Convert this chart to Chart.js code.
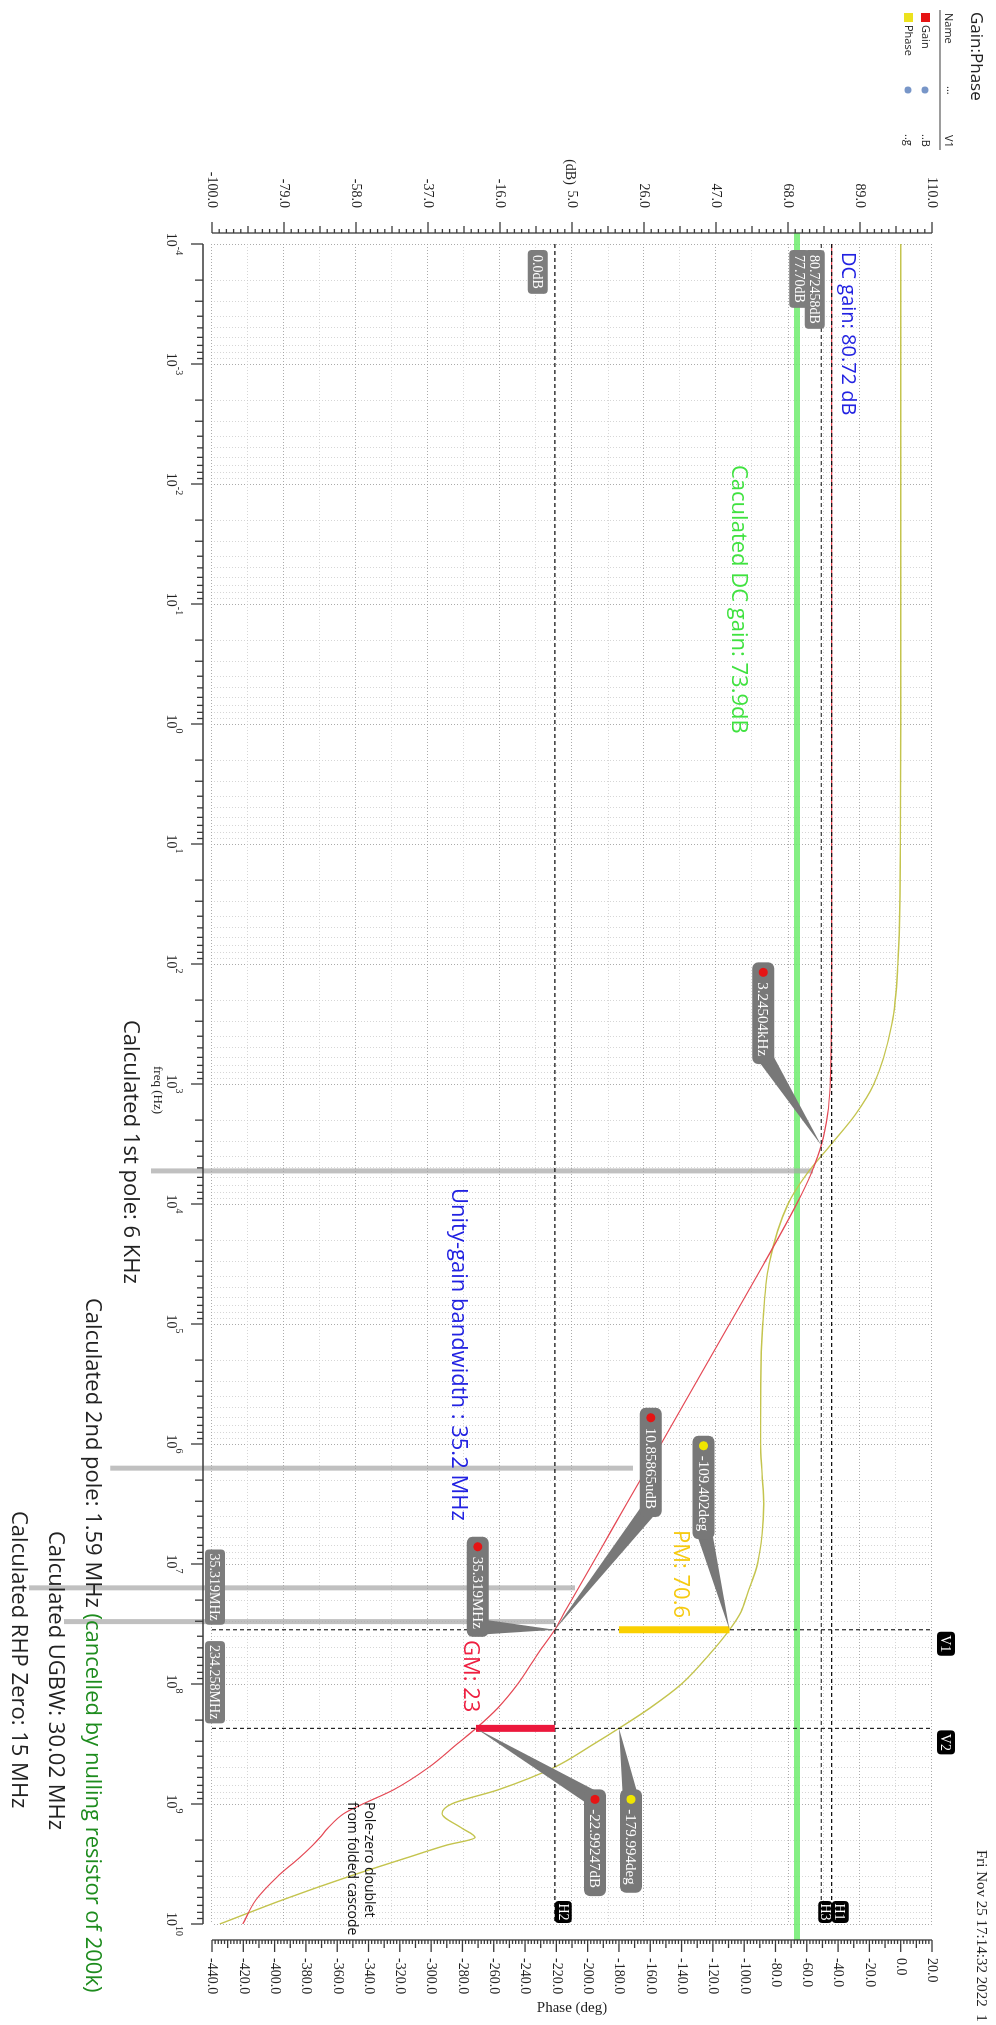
<!DOCTYPE html>
<html>
<head>
<meta charset="utf-8">
<script src="https://cdn.jsdelivr.net/npm/chart.js@4.4.1/dist/chart.umd.min.js"></script>
<style>
html, body { margin: 0; padding: 0; background: #fff; overflow: hidden; }
#wrap { position: absolute; left: 0; top: 0; width: 2025px; height: 996px; transform-origin: 0 0; transform: translate(996px, 0) rotate(90deg); }
</style>
</head>
<body>
<div id="wrap"><canvas id="c" width="2025" height="996"></canvas></div>
<script>
// the plot is drawn landscape and turned a quarter turn, like the original printout

const freqHz = [1e-4, 1e-2, 1, 10, 100, 316, 1000, 1780, 3160, 5620, 1e4, 3.16e4, 1e5, 3.16e5, 1e6, 1.78e6,
    3.16e6, 5.62e6, 1e7, 1.78e7, 2.5e7, 3.5319e7, 5.62e7, 1e8, 1.58e8, 2.34258e8, 3.16e8, 5e8, 7.6e8,
    1e9, 1.2e9, 1.6e9, 1.9e9, 2.2e9, 2.82e9, 4e9, 6.3e9, 1e10];
const gainDb = [80.72, 80.72, 80.72, 80.72, 80.72, 80.68, 80.33, 79.58, 77.82, 74.7, 70.52, 60.92, 50.93, 40.93, 30.93, 25.9,
    20.9, 15.9, 10.9, 5.85, 2.9, 0.0, -5.0, -10.8, -16.6, -23.0, -28.5, -37.0, -47.0,
    -56.0, -61.5, -66.3, -68.5, -70.6, -74.6, -80.8, -87.2, -91.0];
const phaseDeg = [0, 0, 0, -0.2, -1.8, -5.6, -17.1, -28.7, -44.2, -60.0, -72.0, -84.1, -88.1, -89.4, -89.5, -88.5,
    -87.5, -88.5, -91.5, -98, -102, -109.4, -122, -140, -160, -180, -196, -222, -257,
    -287, -293, -280, -272, -290, -316, -352, -395, -435];

const decadeExp = [-4, -3, -2, -1, 0, 1, 2, 3, 4, 5, 6, 7, 8, 9, 10];
const gainTicks = [-100, -79, -58, -37, -16, 5, 26, 47, 68, 89, 110];
const phaseTicks = [-440, -420, -400, -380, -360, -340, -320, -300, -280, -260, -240, -220, -200, -180,
    -160, -140, -120, -100, -80, -60, -40, -20, 0, 20];

// cursors
const cursorV = [{ name: 'V1', f: 35.319e6, label: '35.319MHz' }, { name: 'V2', f: 234.258e6, label: '234.258MHz' }];
const cursorH = [{ name: 'H1', db: 80.72458, label: '80.72458dB' }, { name: 'H3', db: 77.70, label: '77.70dB' },
    { name: 'H2', db: 0.0, label: '0.0dB' }];

const calcDcGain = 70.6;          // green band, as drawn
const calcFreqHz = [5.3e3, 1.59e6, 15.8e6, 30.2e6];
const calcFromDb = [-117.8, -129.7, -153.4, -143.2];
const calcToDb = [75.3, 22.8, 5.9, 0.0];

const pm = { f: 35.319e6, from: -180, to: -109.402 };
const gm = { f: 234.258e6, from: -22.99247, to: 0 };

const RED = 'rgb(228,72,84)';
const OLIVE = 'rgb(196,196,78)';
const sans = '"Open Sans", "Noto Sans", sans-serif';
const serif = '"Liberation Serif", "DejaVu Serif", serif';

const pts = (ys) => freqHz.map((f, i) => ({ x: f, y: ys[i] }));
const seg = (x1, y1, x2, y2) => [{ x: x1, y: y1 }, { x: x2, y: y2 }];

const datasets = [
    { label: 'PM', data: seg(pm.f, pm.from, pm.f, pm.to), yAxisID: 'yPhase', borderColor: 'rgb(250,208,0)', borderWidth: 7 },
    { label: 'GM', data: seg(gm.f, gm.from, gm.f, gm.to), yAxisID: 'yGain', borderColor: 'rgb(236,24,60)', borderWidth: 7 }
];
cursorH.forEach(c => datasets.push({ label: c.name, data: seg(1e-4, c.db, 1e10, c.db), yAxisID: 'yGain',
    borderColor: '#111', borderWidth: 1.1, borderDash: [4, 3] }));
cursorV.forEach(c => datasets.push({ label: c.name, data: seg(c.f, -100, c.f, 110), yAxisID: 'yGain',
    borderColor: '#111', borderWidth: 1.1, borderDash: [4, 3] }));
datasets.push({ label: 'Gain', data: pts(gainDb), yAxisID: 'yGain', borderColor: RED, borderWidth: 1.2, cubicInterpolationMode: 'monotone' });
datasets.push({ label: 'Phase', data: pts(phaseDeg), yAxisID: 'yPhase', borderColor: OLIVE, borderWidth: 1.4, cubicInterpolationMode: 'monotone' });
calcFreqHz.forEach((f, i) => datasets.push({ label: 'calc' + i, data: seg(f, calcFromDb[i], f, calcToDb[i]), yAxisID: 'yGain',
    borderColor: 'rgba(165,165,165,0.7)', borderWidth: 5, clip: false }));
datasets.push({ label: 'calcDC', data: seg(8.1e-5, calcDcGain, 1.36e10, calcDcGain), yAxisID: 'yGain',
    borderColor: 'rgba(110,236,110,0.85)', borderWidth: 6, clip: false });
datasets.forEach(d => { d.showLine = true; d.pointRadius = 0; d.fill = false; });

const isDecade = v => Math.abs(Math.log10(v) - Math.round(Math.log10(v))) < 1e-6;
const freqGrid = [];
decadeExp.forEach(e => {
    freqGrid.push(Math.pow(10, e));
    if (e < 10) for (let m = 2; m <= 9; m++) freqGrid.push(m * Math.pow(10, e));
});

// text on the page
const notes = [
    { parts: [['DC gain: 80.72 dB', 'rgb(34,34,226)']], x: 252, y: 148, size: 20 },
    { parts: [['Caculated DC gain: 73.9dB', 'rgb(64,226,64)']], x: 465, y: 258, size: 22 },
    { parts: [['Unity-gain bandwidth : 35.2 MHz', 'rgb(34,34,226)']], x: 1188, y: 538, size: 22 },
    { parts: [['PM: 70.6', 'rgb(246,202,16)']], x: 1530, y: 316, size: 22 },
    { parts: [['GM: 23', 'rgb(238,30,64)']], x: 1640, y: 526, size: 22 },
    { parts: [['Pole-zero doublet', '#111']], x: 1802, y: 627, size: 14 },
    { parts: [['from folded cascode', '#111']], x: 1802, y: 644, size: 14 },
    { parts: [['Calculated 1st pole: 6 KHz', '#222']], x: 1020, y: 866, size: 22 },
    { parts: [['Calculated 2nd pole: 1.59 MHz ', '#222'], ['(cancelled by nulling resistor of 200k)', 'rgb(30,140,30)']], x: 1298, y: 904, size: 22 },
    { parts: [['Calculated UGBW: 30.02 MHz', '#222']], x: 1531, y: 941, size: 22 },
    { parts: [['Calculated RHP Zero: 15 MHz', '#222']], x: 1511, y: 978, size: 22 }
];

// grey markers with a pointer; dx/dy place the box relative to the point
const callouts = [
    { text: '3.24504kHz', dot: 'rgb(230,20,20)', f: 3245.04, v: 77.7, axis: 'yGain', dx: -183, dy: 58 },
    { text: '10.85865udB', dot: 'rgb(230,20,20)', f: 35.319e6, v: 0, axis: 'yGain', dx: -222, dy: -96 },
    { text: '-109.402deg', dot: 'rgb(240,230,0)', f: 35.319e6, v: -109.402, axis: 'yPhase', dx: -194, dy: 26 },
    { text: '35.319MHz', dot: 'rgb(230,20,20)', f: 35.319e6, v: 0, axis: 'yGain', dx: -93, dy: 77 },
    { text: '-22.99247dB', dot: 'rgb(230,20,20)', f: 234.258e6, v: -22.99247, axis: 'yGain', dx: 61, dy: -119 },
    { text: '-179.994deg', dot: 'rgb(240,230,0)', f: 234.258e6, v: -179.994, axis: 'yPhase', dx: 61, dy: -12 }
];

function roundRect(ctx, x, y, w, h, r) {
    ctx.beginPath();
    ctx.moveTo(x + r, y);
    ctx.arcTo(x + w, y, x + w, y + h, r);
    ctx.arcTo(x + w, y + h, x, y + h, r);
    ctx.arcTo(x, y + h, x, y, r);
    ctx.arcTo(x, y, x + w, y, r);
    ctx.closePath();
}

function line(ctx, x1, y1, x2, y2) {
    ctx.beginPath();
    ctx.moveTo(x1, y1);
    ctx.lineTo(x2, y2);
    ctx.stroke();
}

const rulers = {
    id: 'rulers',
    afterDraw(chart) {
        const ctx = chart.ctx, a = chart.chartArea;
        const xs = chart.scales.x, yg = chart.scales.yGain, yp = chart.scales.yPhase;
        ctx.save();
        ctx.strokeStyle = '#3a3a3a';
        ctx.fillStyle = '#222';
        ctx.lineWidth = 1.3;

        // dB axis
        const gx = a.left - 11;
        line(ctx, gx, yg.getPixelForValue(-100), gx, yg.getPixelForValue(110));
        for (let k = 0; k <= 100; k++) {
            const y = yg.getPixelForValue(-100 + k * 2.1);
            const len = k % 10 === 0 ? 11 : (k % 5 === 0 ? 7 : 4);
            line(ctx, gx - len, y, gx, y);
        }
        ctx.font = '14px ' + serif;
        ctx.textAlign = 'right';
        ctx.textBaseline = 'middle';
        gainTicks.forEach(v => ctx.fillText(v.toFixed(1), gx - 25, yg.getPixelForValue(v)));
        ctx.textAlign = 'center';
        ctx.font = '14px ' + serif;
        ctx.fillText('(dB)', 172, 426);

        // phase axis
        const px = a.right + 16;
        line(ctx, px, yp.getPixelForValue(-440), px, yp.getPixelForValue(20));
        for (let k = 0; k <= 230; k++) {
            const y = yp.getPixelForValue(-440 + k * 2);
            const len = k % 10 === 0 ? 12 : (k % 5 === 0 ? 8 : 4);
            line(ctx, px, y, px + len, y);
        }
        ctx.font = '14px ' + serif;
        ctx.textAlign = 'left';
        phaseTicks.forEach(v => ctx.fillText(v.toFixed(1), px + 18, yp.getPixelForValue(v)));
        ctx.save();
        ctx.translate(2008, (a.top + a.bottom) / 2);
        ctx.rotate(-Math.PI / 2);
        ctx.textAlign = 'center';
        ctx.font = '15px ' + serif;
        ctx.fillText('Phase (deg)', 0, 0);
        ctx.restore();

        // frequency axis
        const fy = a.bottom + 9;
        line(ctx, xs.getPixelForValue(1e-4), fy, xs.getPixelForValue(1e10), fy);
        decadeExp.forEach(e => {
            const x = xs.getPixelForValue(Math.pow(10, e));
            line(ctx, x, fy, x, fy + 12);
            if (e < 10) {
                for (let m = 2; m <= 9; m++) {
                    const xm = xs.getPixelForValue(m * Math.pow(10, e));
                    line(ctx, xm, fy, xm, fy + (m <= 3 ? 8 : 6));
                }
            }
            ctx.font = '14px ' + serif;
            const w1 = ctx.measureText('10').width;
            ctx.font = '10px ' + serif;
            const w2 = ctx.measureText(String(e)).width;
            const x0 = x - (w1 + w2) / 2;
            ctx.textAlign = 'left';
            ctx.font = '14px ' + serif;
            ctx.fillText('10', x0, fy + 32);
            ctx.font = '10px ' + serif;
            ctx.fillText(String(e), x0 + w1, fy + 24);
        });
        ctx.font = '13px ' + serif;
        ctx.textAlign = 'center';
        ctx.fillText('freq (Hz)', (a.left + a.right) / 2 + 6, fy + 46);

        // title, legend and date
        ctx.textAlign = 'left';
        ctx.fillStyle = '#222';
        ctx.font = '17px ' + sans;
        ctx.fillText('Gain:Phase', 12, 20);
        ctx.font = '11px ' + sans;
        ctx.fillText('Name', 13, 48);
        ctx.fillText('...', 86, 46);
        ctx.fillText('V1', 135, 48);
        ctx.lineWidth = 1;
        line(ctx, 10, 56, 150, 56);
        [['Gain', 'rgb(230,20,20)', 71, '..B'], ['Phase', 'rgb(236,226,30)', 88, '..g']].forEach(r => {
            ctx.fillStyle = r[1];
            ctx.fillRect(13, r[2] - 5, 9, 9);
            ctx.fillStyle = '#222';
            ctx.fillText(r[0], 25, r[2]);
            ctx.fillStyle = 'rgb(120,150,200)';
            ctx.beginPath();
            ctx.arc(90, r[2], 3.5, 0, Math.PI * 2);
            ctx.fill();
            ctx.fillStyle = '#222';
            ctx.fillText(r[3], 134, r[2]);
        });
        ctx.font = '15px ' + serif;
        ctx.fillText('Fri Nov 25 17:14:32 2022  1', 1850, 15);

        // hand-written notes
        notes.forEach(n => {
            ctx.font = n.size + 'px ' + sans;
            let x = n.x;
            n.parts.forEach(p => {
                ctx.fillStyle = p[1];
                ctx.fillText(p[0], x, n.y);
                x += ctx.measureText(p[0]).width;
            });
        });
        ctx.restore();
    },
    afterDatasetsDraw(chart) {
        const ctx = chart.ctx, a = chart.chartArea;
        const xs = chart.scales.x, yg = chart.scales.yGain;
        ctx.save();
        ctx.textBaseline = 'middle';

        // cursor tags
        const tag = (text, x, y, w, h, fill) => {
            ctx.fillStyle = fill;
            roundRect(ctx, x, y, w, h, 4);
            ctx.fill();
            ctx.fillStyle = '#fff';
            ctx.textAlign = 'center';
            ctx.fillText(text, x + w / 2, y + h / 2 + 1);
        };
        ctx.font = '14px ' + serif;
        cursorV.forEach(c => {
            const x = xs.getPixelForValue(c.f);
            const w = ctx.measureText(c.label).width + 8;
            tag(c.label, x - 5 - w, a.bottom - 13, w, 20, 'rgb(125,125,125)');
            tag(c.name, x + 2, 41, 24, 18, '#000');
        });
        cursorH.forEach((c, i) => {
            const y = yg.getPixelForValue(c.db);
            const w = ctx.measureText(c.label).width + 10;
            tag(c.label, a.left + 6, y + (i === 1 ? 12 : 7), w, 20, 'rgb(125,125,125)');
            tag(c.name, a.right - 23, i === 1 ? y - 11 : y - 17, 22, i === 1 ? 14 : 17, '#000');
        });

        // callouts
        callouts.forEach(c => {
            const tx = xs.getPixelForValue(c.f);
            const ty = chart.scales[c.axis].getPixelForValue(c.v);
            ctx.font = '15px ' + serif;
            const w = ctx.measureText(c.text).width + 28;
            const h = 22;
            const bx = tx + c.dx, by = ty + c.dy - h / 2;
            const cx = Math.min(Math.max(tx, bx + 10), bx + w - 10), cy = by + h / 2;
            const ang = Math.atan2(ty - cy, tx - cx);
            const ox = -Math.sin(ang) * 8, oy = Math.cos(ang) * 8;
            ctx.fillStyle = 'rgb(120,120,120)';
            ctx.beginPath();
            ctx.moveTo(cx + ox, cy + oy);
            ctx.lineTo(tx, ty);
            ctx.lineTo(cx - ox, cy - oy);
            ctx.closePath();
            ctx.fill();
            roundRect(ctx, bx, by, w, h, 6);
            ctx.fill();
            ctx.fillStyle = c.dot;
            ctx.beginPath();
            ctx.arc(bx + 10, cy, 4.5, 0, Math.PI * 2);
            ctx.fill();
            ctx.fillStyle = '#fff';
            ctx.textAlign = 'left';
            ctx.fillText(c.text, bx + 20, cy + 1);
        });
        ctx.restore();
    }
};

new Chart(document.getElementById('c'), {
    type: 'scatter',
    data: { datasets: datasets },
    options: {
        responsive: false,
        animation: false,
        events: [],
        layout: { padding: { top: 64, left: 0, right: 0, bottom: 0 } },
        plugins: { legend: { display: false }, tooltip: { enabled: false } },
        scales: {
            x: {
                type: 'logarithmic', position: 'bottom', min: 1e-4, max: 1e10,
                afterBuildTicks: s => { s.ticks = freqGrid.map(v => ({ value: v })); },
                afterFit: s => { s.height = 212; },
                ticks: { display: false },
                grid: {
                    drawTicks: false, lineWidth: 1,
                    color: c => (c.tick && isDecade(c.tick.value)) ? 'rgba(150,150,150,0.8)' : 'rgba(200,200,200,0.75)'
                },
                border: { display: false, dash: [1, 2] }
            },
            yGain: {
                type: 'linear', position: 'left', min: -100, max: 110,
                afterBuildTicks: s => { s.ticks = Array.from({ length: 21 }, (_, k) => ({ value: -100 + 10.5 * k })); },
                afterFit: s => { s.width = 244; },
                ticks: { display: false },
                grid: {
                    drawTicks: false, lineWidth: 1,
                    color: c => (c.index % 2 === 0) ? 'rgba(150,150,150,0.8)' : 'rgba(200,200,200,0.75)'
                },
                border: { display: false, dash: [1, 2] }
            },
            yPhase: {
                type: 'linear', position: 'right', min: -440, max: 20,
                afterFit: s => { s.width = 101; },
                ticks: { display: false },
                grid: { display: false, drawTicks: false },
                border: { display: false }
            }
        }
    },
    plugins: [rulers]
});
</script>
</body>
</html>
